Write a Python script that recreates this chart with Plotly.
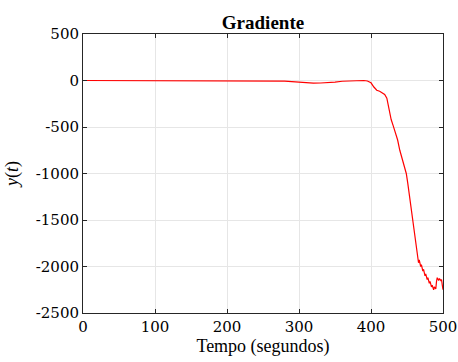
import plotly.graph_objects as go

t = [0, 50, 100, 150, 200, 250, 260, 270, 280, 290, 300, 310, 320, 330, 340, 350, 360, 370, 380, 390,
     395, 400, 404, 408, 412, 416, 419, 422, 424, 426, 428, 431, 433, 435, 437, 440, 442, 445, 447, 449,
     451, 453, 455, 457, 459, 461, 462, 464, 466, 467, 469, 470, 472, 473, 475, 476, 478, 479, 481, 482,
     484, 485, 487, 488, 490, 491, 492, 494, 495, 497, 498, 499, 500]
y = [0, 0, 0, 0, 0, 0, -1, -3, -7, -13, -20, -25, -28, -27, -24, -18, -8, -3, -1, 0,
     -5, -25, -70, -105, -115, -135, -150, -190, -270, -350, -420, -490, -540, -570, -640, -750, -800, -890, -940, -1000,
     -1100, -1220, -1350, -1470, -1600, -1700, -1780, -1870, -1960, -1930, -2000, -1980, -2050, -2030, -2100, -2080, -2140, -2120, -2180, -2160,
     -2220, -2200, -2250, -2220, -2240, -2160, -2120, -2150, -2130, -2150, -2140, -2200, -2250]

xticks = [0, 100, 200, 300, 400, 500]
yticks = [500, 0, -500, -1000, -1500, -2000, -2500]

SERIF = "Liberation Serif"
TICKFONT = dict(family="DejaVu Serif", size=15, color="black")

fig = go.Figure()
fig.add_trace(go.Scatter(x=t, y=y, mode="lines", line=dict(color="red", width=1.2), showlegend=False))

axis_common = dict(
    showline=True, linecolor="#262626", linewidth=1, mirror="ticks",
    ticks="inside", ticklen=4, tickcolor="#262626",
    showgrid=True, gridcolor="#e6e6e6", gridwidth=1, zeroline=False,
    automargin=False, tickfont=TICKFONT,
)
fig.update_layout(
    width=458, height=362,
    margin=dict(l=83, r=15, t=34, b=49),
    paper_bgcolor="white", plot_bgcolor="white",
    font=dict(family=SERIF, size=17, color="black"),
    title=dict(text="<b>Gradiente</b>", x=0.5, xanchor="center", xref="paper", y=1, yref="paper",
               yanchor="bottom", pad=dict(b=5), font=dict(family=SERIF, size=19, color="black")),
    xaxis=dict(range=[0, 500], tickvals=xticks, ticktext=[str(v) for v in xticks],
               title=dict(text="Tempo (segundos)", standoff=2,
                          font=dict(family=SERIF, size=18, color="black")), **axis_common),
    yaxis=dict(range=[-2500, 500], tickvals=yticks, ticktext=[str(v) for v in yticks],
               title=dict(text="<i>y</i>(<i>t</i>)", standoff=12,
                          font=dict(family=SERIF, size=18, color="black")), **axis_common),
)
fig.write_html("out.html")
